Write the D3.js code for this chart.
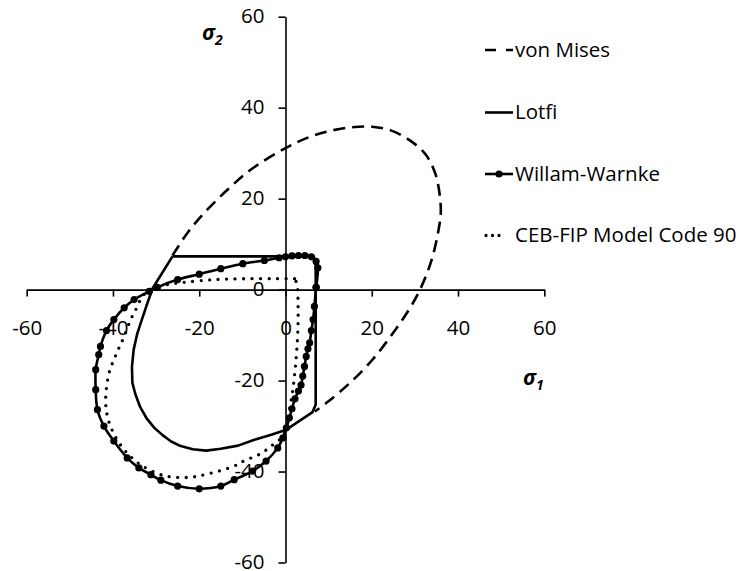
<!DOCTYPE html>
<html>
<head>
<meta charset="utf-8">
<script src="https://cdn.jsdelivr.net/npm/d3@7"></script>
<style>
  html, body { margin: 0; padding: 0; background: #fff; }
  svg { display: block; }
  text { font-family: "Open Sans", "DejaVu Sans", sans-serif; fill: #000; }
</style>
</head>
<body>
<svg id="chart" width="738" height="571"></svg>
<script>
// Biaxial failure envelopes for concrete, stresses sigma1 / sigma2

const xTicks = [-60, -40, -20, 0, 20, 40, 60];
const yTicks = [-60, -40, -20, 0, 20, 40, 60];

const seriesNames = ["von Mises", "Lotfi", "Willam-Warnke", "CEB-FIP Model Code 90"];

// von Mises arc, [sigma1, sigma2]
const vonMises = [
  [-26.2, 7.5], [-22.7, 12.5], [-18.8, 16.9], [-13.4, 22.0], [-8.0, 26.4],
  [0, 31.1], [5.7, 33.6], [10.8, 35.0], [15.4, 35.7], [20.1, 35.8], [24.7, 34.9],
  [29.0, 32.7], [32.5, 29.7], [34.7, 25.6], [35.7, 21.2], [36.0, 16.9], [35.5, 13.2],
  [33.9, 6.6], [31.2, 0], [28.5, -4.6], [24.6, -10.0], [19.9, -15.7], [14.5, -20.9],
  [9.5, -24.9], [6.8, -26.8]
];

// Lotfi envelope (closed)
const lotfi = [
  [-26.2, 7.3], [6.4, 7.3], [7.0, 6.5], [7.0, -25.3], [6.2, -27.0], [0.2, -30.8],
  [-3.3, -31.9], [-7.2, -33.0], [-11.0, -34.3], [-15.0, -35.0], [-18.4, -35.4],
  [-21.5, -35.1], [-24.3, -34.4], [-26.5, -33.4], [-28.5, -32.0], [-30.5, -30.3],
  [-32.2, -28.3], [-33.7, -25.8], [-34.8, -23.0], [-35.5, -20.5], [-35.6, -17.0],
  [-35.2, -13.2], [-34.4, -9.8], [-33.3, -6.6], [-32.1, -3.2], [-30.8, 0.3], [-26.2, 7.3]
];

// Willam-Warnke envelope (closed, with markers)
const willamWarnke = [
  [7.1, 0.5], [7.5, 4.8], [7.1, 6.2], [6.0, 7.2], [4.5, 7.5], [3.0, 7.5], [1.5, 7.4],
  [0, 7.2], [-1.5, 7.0], [-4.9, 6.4], [-9.9, 5.7], [-15.0, 4.6], [-20.0, 3.4],
  [-25.0, 2.2], [-29.7, 0.5], [-31.6, -0.4], [-35.1, -2.2], [-37.4, -4.0], [-39.8, -6.6],
  [-41.5, -9.0], [-42.9, -12.5], [-43.3, -14.3], [-44.0, -17.6], [-44.0, -22.0],
  [-43.6, -26.4], [-42.1, -30.0], [-39.8, -33.3], [-36.7, -37.0], [-34.0, -39.2],
  [-31.2, -40.7], [-28.9, -41.9], [-25.0, -43.2], [-20.0, -43.8], [-15.0, -43.2],
  [-11.9, -41.8], [-7.6, -39.9], [-4.5, -37.7], [-1.8, -34.8], [-0.6, -32.6],
  [0.2, -30.4], [0.9, -28.2], [1.5, -26.2], [2.2, -24.0], [3.0, -22.3], [3.6, -21.0],
  [4.0, -19.0], [4.4, -16.9], [4.8, -14.7], [5.2, -13.0], [5.6, -11.7], [6.0, -9.0],
  [6.4, -6.6], [6.7, -3.7], [7.1, 0.5]
];

// CEB-FIP Model Code 90 envelope (closed)
const cebFip = [
  [2.1, 2.4], [-2.0, 2.4], [-8.0, 2.4], [-13.8, 2.3], [-18.0, 2.1], [-23.5, 1.6],
  [-27.3, 1.1], [-29.7, 0.4], [-32.4, -0.7], [-33.6, -2.2], [-34.7, -4.4], [-35.9, -6.6],
  [-37.4, -10.3], [-38.6, -12.8], [-39.6, -15.0], [-40.9, -18.3], [-41.7, -24.2],
  [-41.3, -27.8], [-40.1, -31.1], [-37.4, -35.2], [-33.6, -38.5], [-28.1, -40.9],
  [-22.7, -41.3], [-18.8, -40.7], [-12.2, -38.9], [-9.5, -37.6], [-6.0, -36.2],
  [-3.3, -34.4], [-0.6, -32.2], [0.2, -30.0], [0.9, -26.4], [1.7, -22.0], [2.5, -14.7],
  [2.9, -8.0], [2.9, -2.9], [2.7, 1.1], [2.1, 2.4]
];

const svg = d3.select("#chart");

const x = d3.scaleLinear().domain([-60, 60]).range([26.7, 544.3]);
const y = d3.scaleLinear().domain([-60, 60]).range([562.5, 16.7]);

// axes crossing at the origin, plain hyphen for negatives
const fmt = d => String(d);
const xAxis = d3.axisBottom(x).tickValues(xTicks).tickFormat(fmt)
  .tickSizeInner(7).tickSizeOuter(0).tickPadding(24);
const yAxis = d3.axisLeft(y).tickValues(yTicks).tickFormat(fmt)
  .tickSizeInner(7).tickSizeOuter(0).tickPadding(14);

const gx = svg.append("g").attr("transform", `translate(0,${y(0)})`).call(xAxis);
const gy = svg.append("g").attr("transform", `translate(${x(0)},0)`).call(yAxis);

[gx, gy].forEach(g => {
  g.selectAll(".domain").attr("stroke", "#000").attr("stroke-width", 1.6);
  g.selectAll(".tick line").attr("stroke", "#000").attr("stroke-width", 1.6);
  g.selectAll(".tick text").attr("font-size", 20.5).attr("fill", "#000")
    .style("font-family", '"Open Sans", sans-serif');
});
gy.selectAll(".tick text").attr("dy", "0.28em");

const line = d3.line().x(d => x(d[0])).y(d => y(d[1]));
const smooth = d3.line().x(d => x(d[0])).y(d => y(d[1])).curve(d3.curveCatmullRom.alpha(0.5));

const plot = svg.append("g");

plot.append("path").datum(vonMises)
  .attr("d", smooth).attr("fill", "none").attr("stroke", "#000")
  .attr("stroke-width", 2.6).attr("stroke-dasharray", "12,7");

plot.append("path").datum(lotfi)
  .attr("d", line).attr("fill", "none").attr("stroke", "#000")
  .attr("stroke-width", 2.6).attr("stroke-linejoin", "round");

plot.append("path").datum(willamWarnke)
  .attr("d", smooth).attr("fill", "none").attr("stroke", "#000")
  .attr("stroke-width", 2.6);
plot.append("g").selectAll("circle").data(willamWarnke).join("circle")
  .attr("cx", d => x(d[0])).attr("cy", d => y(d[1])).attr("r", 3.6).attr("fill", "#000");

plot.append("path").datum(cebFip)
  .attr("d", smooth).attr("fill", "none").attr("stroke", "#000")
  .attr("stroke-width", 3.3).attr("stroke-linecap", "round").attr("stroke-dasharray", "0,8.5");

// axis titles
const t2 = svg.append("text").attr("x", 202).attr("y", 40)
  .attr("font-size", 21).attr("font-weight", "bold").attr("font-style", "italic");
t2.append("tspan").text("σ");
t2.append("tspan").attr("font-size", 14).attr("dy", 5).text("2");

const t1 = svg.append("text").attr("x", 523).attr("y", 385)
  .attr("font-size", 21).attr("font-weight", "bold").attr("font-style", "italic");
t1.append("tspan").text("σ");
t1.append("tspan").attr("font-size", 14).attr("dy", 5).text("1");

// legend
const legend = svg.append("g");
const legendY = [50, 112.5, 174, 235.5];
const lx0 = 485, lx1 = 513;

seriesNames.forEach((name, i) => {
  const g = legend.append("g").attr("transform", `translate(0,${legendY[i]})`);
  const sample = g.append("line").attr("x1", lx0).attr("x2", lx1).attr("y1", 0).attr("y2", 0)
    .attr("stroke", "#000");
  if (i === 0) sample.attr("stroke-width", 2.6).attr("stroke-dasharray", "11,10");
  if (i === 1) sample.attr("stroke-width", 2.6);
  if (i === 2) {
    sample.attr("stroke-width", 2.6);
    g.append("circle").attr("cx", (lx0 + lx1) / 2).attr("cy", 0).attr("r", 3.6).attr("fill", "#000");
  }
  if (i === 3) sample.attr("x1", lx0 + 1).attr("x2", lx0 + 16).attr("stroke-width", 3.3)
    .attr("stroke-linecap", "round").attr("stroke-dasharray", "0,6.5");
  g.append("text").attr("x", 515).attr("y", 6.8).attr("font-size", 20.5).text(name);
});
</script>
</body>
</html>
